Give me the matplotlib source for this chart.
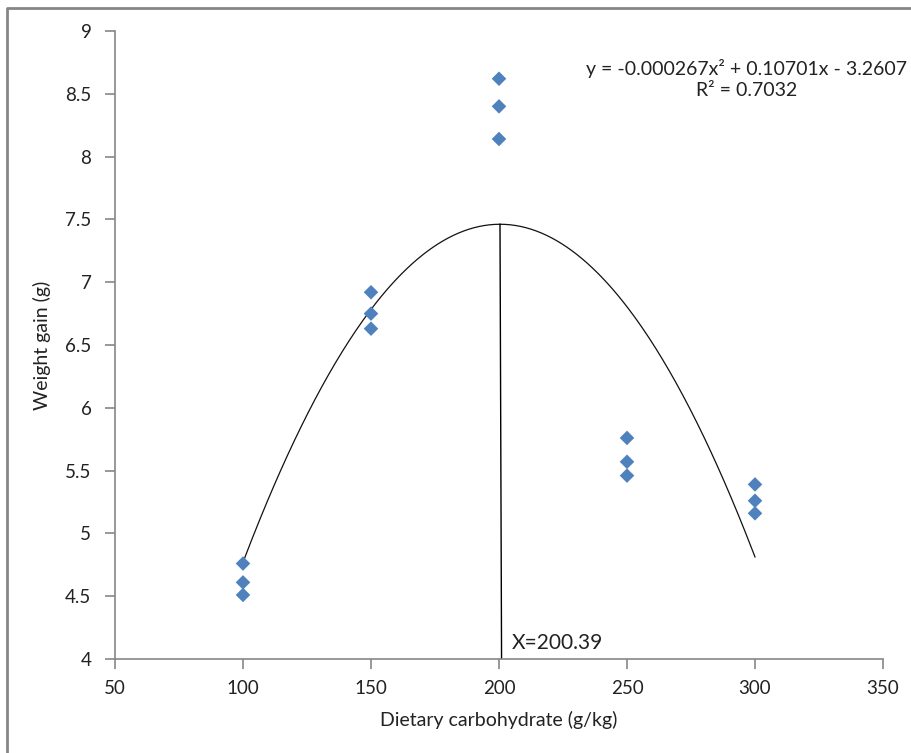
import numpy as np
import matplotlib.pyplot as plt
from matplotlib.lines import Line2D

plt.rcParams['font.family'] = ['Lato', 'DejaVu Sans']

# carbohydrate levels and weight gain of the three replicates
carb = [100, 100, 100, 150, 150, 150, 200, 200, 200, 250, 250, 250, 300, 300, 300]
gain = [4.76, 4.61, 4.51, 6.92, 6.75, 6.63, 8.62, 8.40, 8.14,
        5.76, 5.57, 5.46, 5.39, 5.26, 5.16]

# quadratic trend line from the spreadsheet
coef = [-0.000267, 0.10701, -3.2607]
eq_text = "y = -0.000267x\u00b2 + 0.10701x - 3.2607"
r2_text = "R\u00b2 = 0.7032"

# optimum marker
x_opt = 200.39
x_opt_base = 201.0
opt_label = "X=200.39"

x_ticks = [50, 100, 150, 200, 250, 300, 350]
y_ticks = [4, 4.5, 5, 5.5, 6, 6.5, 7, 7.5, 8, 8.5, 9]
y_tick_labels = ['4', '4.5', '5', '5.5', '6', '6.5', '7', '7.5', '8', '8.5', '9']

axis_grey = '#868686'
blue = '#4F81BD'
txt = '#222222'

fig = plt.figure(figsize=(9.12, 7.53), dpi=100)
ax = fig.add_axes([115 / 912, 1 - 659 / 753, 768 / 912, 628 / 753])

# fitted curve
xs = np.linspace(min(carb), max(carb), 300)
ys = np.polyval(coef, xs)
ax.plot(xs, ys, color='#111111', lw=0.9, zorder=2)

# vertical line from the peak down to the x axis
y_peak = np.polyval(coef, x_opt)
ax.plot([x_opt, x_opt_base], [y_peak, 4.0], color='black', lw=1.0, zorder=2)

ax.scatter(carb, gain, marker='D', s=55, color=blue, edgecolors='none', zorder=3)

ax.set_xlim(50, 350)
ax.set_ylim(4, 9)
ax.set_xticks(x_ticks)
ax.set_yticks(y_ticks)
ax.set_yticklabels(y_tick_labels)

for s in ['top', 'right']:
    ax.spines[s].set_visible(False)
for s in ['left', 'bottom']:
    ax.spines[s].set_color(axis_grey)
    ax.spines[s].set_linewidth(1.2)
ax.tick_params(colors=axis_grey, width=1.2, length=7, labelsize=13.5, labelcolor=txt)
ax.tick_params(axis='y', pad=10)
ax.tick_params(axis='x', pad=8)

ax.set_xlabel('Dietary carbohydrate (g/kg)', fontsize=14, labelpad=10, color=txt)
ax.set_ylabel('Weight gain (g)', fontsize=14, labelpad=10, color=txt)

ax.text(0.822, 0.941, eq_text, transform=ax.transAxes, ha='center', va='center',
        fontsize=14, color=txt)
ax.text(0.822, 0.906, r2_text, transform=ax.transAxes, ha='center', va='center',
        fontsize=14, color=txt)

ax.text(205.1, 4.08, opt_label, ha='left', va='baseline', fontsize=15, color=txt)

# chart area border, cut off at right and bottom
fx = 7.5 / 912
fy = 1 - 7.5 / 753
fig.add_artist(Line2D([fx, fx, 1.0], [0.0, fy, fy], transform=fig.transFigure,
                      color=axis_grey, lw=2.0))

fig.savefig('out.png', dpi=100)
